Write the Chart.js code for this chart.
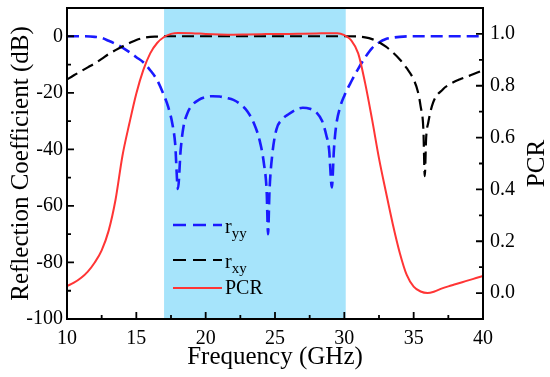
<!DOCTYPE html>
<html><head><meta charset="utf-8">
<script src="https://cdn.jsdelivr.net/npm/chart.js@4/dist/chart.umd.min.js"></script>
<style>html,body{margin:0;padding:0;background:#fff}canvas{display:block}</style>
</head><body>
<canvas id="c" width="550" height="377"></canvas>
<script>
// ---- data ----
const ryyFreq = [10, 11, 12, 12.5, 13, 13.5, 14, 14.5, 15, 15.5, 16, 16.5, 17, 17.3, 17.6, 17.8, 18.0, 18.2, 18.4, 18.7, 19.0, 19.5, 20, 20.5, 21, 21.5, 22, 22.5, 23, 23.5, 23.9, 24.2, 24.4, 24.5, 24.6, 24.8, 25.1, 25.5, 26, 26.5, 27, 27.5, 28, 28.4, 28.7, 28.9, 29.1, 29.25, 29.4, 29.7, 30, 30.5, 31, 31.5, 32, 32.5, 33, 33.5, 34, 35, 36, 37, 38, 39, 40];
const ryyDb = [0, 0, -0.2, -0.6, -1.6, -2.7, -4.0, -5.6, -7.4, -9.2, -12, -15.5, -21, -25, -31, -38, -54, -40, -32, -27, -24.5, -22.5, -21.5, -21.2, -21.3, -21.8, -22.5, -24, -26.5, -31, -37, -45, -55, -70, -55, -42, -33, -29.5, -27.5, -26, -25.3, -25.6, -27, -30, -35, -40, -53.5, -40, -32, -25, -21, -16, -11.5, -7.5, -4.2, -2.2, -1.0, -0.5, -0.2, 0, 0, 0, 0, 0, 0];

const rxyFreq = [10, 10.5, 11, 11.5, 12, 12.5, 13, 13.5, 14, 14.5, 15, 15.5, 16, 16.5, 17, 18, 20, 22, 24, 26, 28, 30, 31, 31.5, 32, 32.5, 33, 33.5, 34, 34.5, 35, 35.3, 35.5, 35.7, 35.8, 35.9, 36.05, 36.4, 37.1, 37.6, 38.3, 39, 39.8, 40];
const rxyDb = [-15.3, -13.8, -12.4, -11.0, -9.6, -8.0, -6.3, -4.9, -3.6, -2.4, -1.3, -0.6, -0.2, -0.1, 0, 0, 0, 0, 0, 0, 0, 0, -0.1, -0.4, -1.0, -2.1, -3.7, -5.7, -8.2, -11.3, -15.3, -19.5, -24.7, -33, -49.5, -36, -30.6, -23.5, -18.8, -17, -15.3, -14, -12.4, -12.1];

const pcrFreq = [10, 10.5, 11, 11.5, 12, 12.5, 13, 13.5, 14, 14.5, 15, 15.5, 16, 16.5, 17, 17.5, 18, 19, 20, 21, 22, 23, 24, 25, 26, 27, 28, 29, 29.5, 30, 30.5, 31, 31.5, 32, 32.5, 33, 33.5, 34, 34.5, 35, 35.5, 36, 36.5, 37, 37.5, 38, 38.5, 39, 39.5, 40];
const pcrVal = [0.027, 0.04, 0.058, 0.083, 0.118, 0.165, 0.24, 0.36, 0.53, 0.655, 0.77, 0.86, 0.925, 0.965, 0.988, 1.0, 1.004, 1.003, 1.0, 0.998, 0.997, 0.998, 0.999, 1.0, 1.0, 1.001, 1.002, 1.003, 1.003, 0.995, 0.975, 0.925, 0.81, 0.67, 0.52, 0.39, 0.265, 0.155, 0.07, 0.025, 0.006, 0.0, 0.006, 0.017, 0.026, 0.034, 0.042, 0.05, 0.058, 0.066];

const xTicks = [10, 15, 20, 25, 30, 35, 40];
const dbTicks = [-100, -80, -60, -40, -20, 0];
const pcrTicks = [0.0, 0.2, 0.4, 0.6, 0.8, 1.0];
const bandStart = 17, bandEnd = 30.1;
const seriesNames = [{main: 'r', sub: 'yy'}, {main: 'r', sub: 'xy'}, {main: 'PCR', sub: ''}];
const titles = {x: 'Frequency (GHz)', y: 'Reflection Coefficient (dB)', y2: 'PCR'};

// ---- styling ----
const SERIF = "'Liberation Serif', 'Times New Roman', serif";
const BLUE = '#1a1aff', BLACK = '#000000', RED = '#ff3535', BAND = '#a6e4fb';

const toXY = (xs, ys) => xs.map((f, i) => ({x: f, y: ys[i]}));
const mids = arr => arr.slice(1).map((v, i) => (v + arr[i]) / 2);

const decor = {
  id: 'decor',
  beforeDatasetsDraw(chart) {
    const {ctx, chartArea: a, scales: {x}} = chart;
    const x0 = x.getPixelForValue(bandStart), x1 = x.getPixelForValue(bandEnd);
    ctx.save();
    ctx.fillStyle = BAND;
    ctx.fillRect(x0, a.top, x1 - x0, a.bottom - a.top);
    ctx.restore();
  },
  afterDatasetsDraw(chart) {
    const {ctx, chartArea: a, scales: {x, y, y2}} = chart;
    ctx.save();
    ctx.strokeStyle = '#000';
    ctx.lineWidth = 2;
    ctx.strokeRect(a.left, a.top, a.right - a.left, a.bottom - a.top);
    ctx.lineWidth = 1.8;
    ctx.beginPath();
    const MAJ = 7, MIN = 4;
    xTicks.forEach(v => { const p = x.getPixelForValue(v); ctx.moveTo(p, a.bottom); ctx.lineTo(p, a.bottom - MAJ); });
    mids(xTicks).forEach(v => { const p = x.getPixelForValue(v); ctx.moveTo(p, a.bottom); ctx.lineTo(p, a.bottom - MIN); });
    dbTicks.forEach(v => { const p = y.getPixelForValue(v); ctx.moveTo(a.left, p); ctx.lineTo(a.left + MAJ, p); });
    mids(dbTicks).forEach(v => { const p = y.getPixelForValue(v); ctx.moveTo(a.left, p); ctx.lineTo(a.left + MIN, p); });
    pcrTicks.forEach(v => { const p = y2.getPixelForValue(v); ctx.moveTo(a.right, p); ctx.lineTo(a.right - MAJ, p); });
    mids(pcrTicks).forEach(v => { const p = y2.getPixelForValue(v); ctx.moveTo(a.right, p); ctx.lineTo(a.right - MIN, p); });
    ctx.stroke();

    // right axis title, reading bottom-to-top
    ctx.fillStyle = '#000';
    ctx.font = '25px ' + SERIF;
    ctx.save();
    ctx.translate(chart.width - 6, (a.top + a.bottom) / 2);
    ctx.rotate(-Math.PI / 2);
    ctx.textAlign = 'center';
    ctx.textBaseline = 'alphabetic';
    ctx.fillText(titles.y2, 0, 0);
    ctx.restore();

    // legend
    const styles = chart.data.datasets;
    const lx0 = a.left + 106, lx1 = a.left + 155, tx = a.left + 158;
    const rows = [a.top + 217, a.top + 252, a.top + 280];
    seriesNames.forEach((s, i) => {
      const ds = styles[i], ry = rows[i];
      ctx.strokeStyle = ds.borderColor;
      ctx.lineWidth = ds.borderWidth;
      ctx.setLineDash(ds.borderDash ? [13, 7] : []);
      ctx.beginPath(); ctx.moveTo(lx0, ry); ctx.lineTo(lx1, ry); ctx.stroke();
      ctx.setLineDash([]);
      ctx.fillStyle = '#000';
      ctx.textAlign = 'left';
      if (s.sub) {
        ctx.font = '20px ' + SERIF;
        ctx.textBaseline = 'alphabetic';
        ctx.fillText(s.main, tx, ry + 8);
        const w = ctx.measureText(s.main).width;
        ctx.font = '15px ' + SERIF;
        ctx.fillText(s.sub, tx + w, ry + 13);
      } else {
        ctx.font = '20px ' + SERIF;
        ctx.textBaseline = 'middle';
        ctx.fillText(s.main, tx, ry + 1);
      }
    });
    ctx.restore();
  }
};

const tickFont = {family: SERIF, size: 20};
const titleFont = {family: SERIF, size: 25};
const setTicks = arr => s => { s.ticks = arr.map(v => ({value: v})); };
const fixV = w => s => { s.width = w; s.paddingTop = 0; s.paddingBottom = 0; };
const fixH = h => s => { s.height = h; s.paddingLeft = 0; s.paddingRight = 0; };

new Chart(document.getElementById('c'), {
  type: 'line',
  data: {
    datasets: [
      {label: 'ryy', data: toXY(ryyFreq, ryyDb), yAxisID: 'y', borderColor: BLUE, borderWidth: 2.6, borderDash: [12, 6], pointRadius: 0, cubicInterpolationMode: 'monotone', order: 2, fill: false},
      {label: 'rxy', data: toXY(rxyFreq, rxyDb), yAxisID: 'y', borderColor: BLACK, borderWidth: 2.2, borderDash: [12, 6], pointRadius: 0, cubicInterpolationMode: 'monotone', order: 1, fill: false},
      {label: 'PCR', data: toXY(pcrFreq, pcrVal), yAxisID: 'y2', borderColor: RED, borderWidth: 2, pointRadius: 0, cubicInterpolationMode: 'monotone', order: 0, fill: false}
    ]
  },
  options: {
    responsive: false, animation: false, devicePixelRatio: 1,
    layout: {padding: {top: 8, left: 0, right: 0, bottom: 0}, autoPadding: false},
    plugins: {legend: {display: false}, tooltip: {enabled: false}},
    scales: {
      x: {
        type: 'linear', position: 'bottom', min: 10, max: 40,
        afterBuildTicks: setTicks(xTicks), afterFit: fixH(58),
        grid: {display: false, drawTicks: false}, border: {display: false},
        ticks: {font: tickFont, color: '#000', padding: 8, maxRotation: 0, autoSkip: false},
        title: {display: true, text: titles.x, font: titleFont, color: '#000', padding: {top: 0, bottom: 5}}
      },
      y: {
        type: 'linear', position: 'left', min: -100, max: 10,
        afterBuildTicks: setTicks(dbTicks), afterFit: fixV(67),
        grid: {display: false, drawTicks: false}, border: {display: false},
        ticks: {font: tickFont, color: '#000', padding: 4, autoSkip: false},
        title: {display: true, text: titles.y, font: titleFont, color: '#000', padding: {top: 6, bottom: 0}}
      },
      y2: {
        type: 'linear', position: 'right', min: -0.1, max: 1.1,
        afterBuildTicks: setTicks(pcrTicks), afterFit: fixV(67),
        grid: {display: false, drawTicks: false}, border: {display: false},
        ticks: {font: tickFont, color: '#000', padding: 7, autoSkip: false, callback: v => Number(v).toFixed(1)},
        title: {display: false}
      }
    }
  },
  plugins: [decor]
});
</script>
</body></html>
